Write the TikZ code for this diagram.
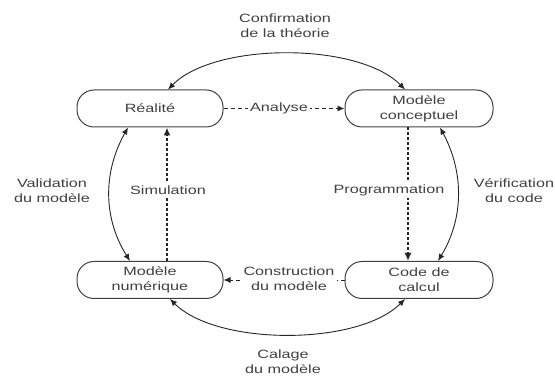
\documentclass[tikz,border=0pt]{standalone}
\usepackage{fontspec}
\setmainfont[FakeStretch=1.35]{Liberation Sans}
\usetikzlibrary{arrows.meta}
\begin{document}
\begin{tikzpicture}[x=1pt,y=-1pt,
  font=\fontsize{12}{15}\selectfont,
  box/.style={draw=black!75, line width=1pt, rounded corners=17pt, minimum width=146pt, minimum height=37pt, align=center, inner sep=0pt, text=black!75},
  arcline/.style={draw=black!85, line width=0.9pt, {Latex[length=7pt,width=6pt]}-{Latex[length=7pt,width=6pt]}},
  thickdash/.style={draw=black!85, line width=2.4pt, dash pattern=on 3pt off 2pt, -{Latex[length=8pt,width=7pt]}},
  thindash/.style={draw=black!85, line width=0.9pt, dash pattern=on 4pt off 3pt, -{Latex[length=7pt,width=6pt]}},
  lbl/.style={fill=white, align=center, inner sep=2.5pt, text=black!75},
  plain/.style={align=center, inner sep=0pt, text=black!75}
]
\useasboundingbox (0,0) rectangle (555,377);

\node[box] (R) at (150,108.5) {Réalité};
\node[box, minimum width=148pt] (MC) at (419,108.5) {Modèle\\conceptuel};
\node[box] (MN) at (150,280) {Modèle\\numérique};
\node[box, minimum width=148pt] (CC) at (419,280) {Code de\\calcul};

% arcs
\draw[arcline] ([xshift=18pt]R.north) .. controls (215,42) and (358,42) .. ([xshift=-14pt]MC.north);
\draw[arcline] ([xshift=20pt]MN.south) .. controls (217,346) and (358,346) .. ([xshift=-14pt]CC.south);
\draw[arcline] ([xshift=-22pt]R.south) .. controls (103,172) and (103,218) .. ([xshift=-20pt]MN.north);
\draw[arcline] ([xshift=21pt]MC.south) .. controls (464,172) and (464,218) .. ([xshift=19pt]CC.north);

% dashed connectors
\draw[thickdash] ([xshift=17pt]MN.north) -- ([xshift=17pt]R.south);
\draw[thickdash] ([xshift=-11pt]MC.south) -- ([xshift=-11pt]CC.north);
\draw[thindash] (R.east) -- (MC.west);
\draw[thindash] (CC.west) -- (MN.east);

% labels
\node[lbl] (lsim) at (168,190) {Simulation};
\node[lbl] (lprog) at (389,190) {Programmation};
\node[lbl] (lana) at (279,108.5) {Analyse};
\node[lbl] (lcons) at (289,279) {Construction\\du modèle};
\node[plain] (lconf) at (285,25.5) {Confirmation\\de la théorie};
\node[plain] (lcal) at (283,362) {Calage\\du modèle};
\node[plain] (lval) at (52,190.5) {Validation\\du modèle};
\node[plain] (lver) at (514,190.5) {Vérification\\du code};
\end{tikzpicture}
\end{document}
